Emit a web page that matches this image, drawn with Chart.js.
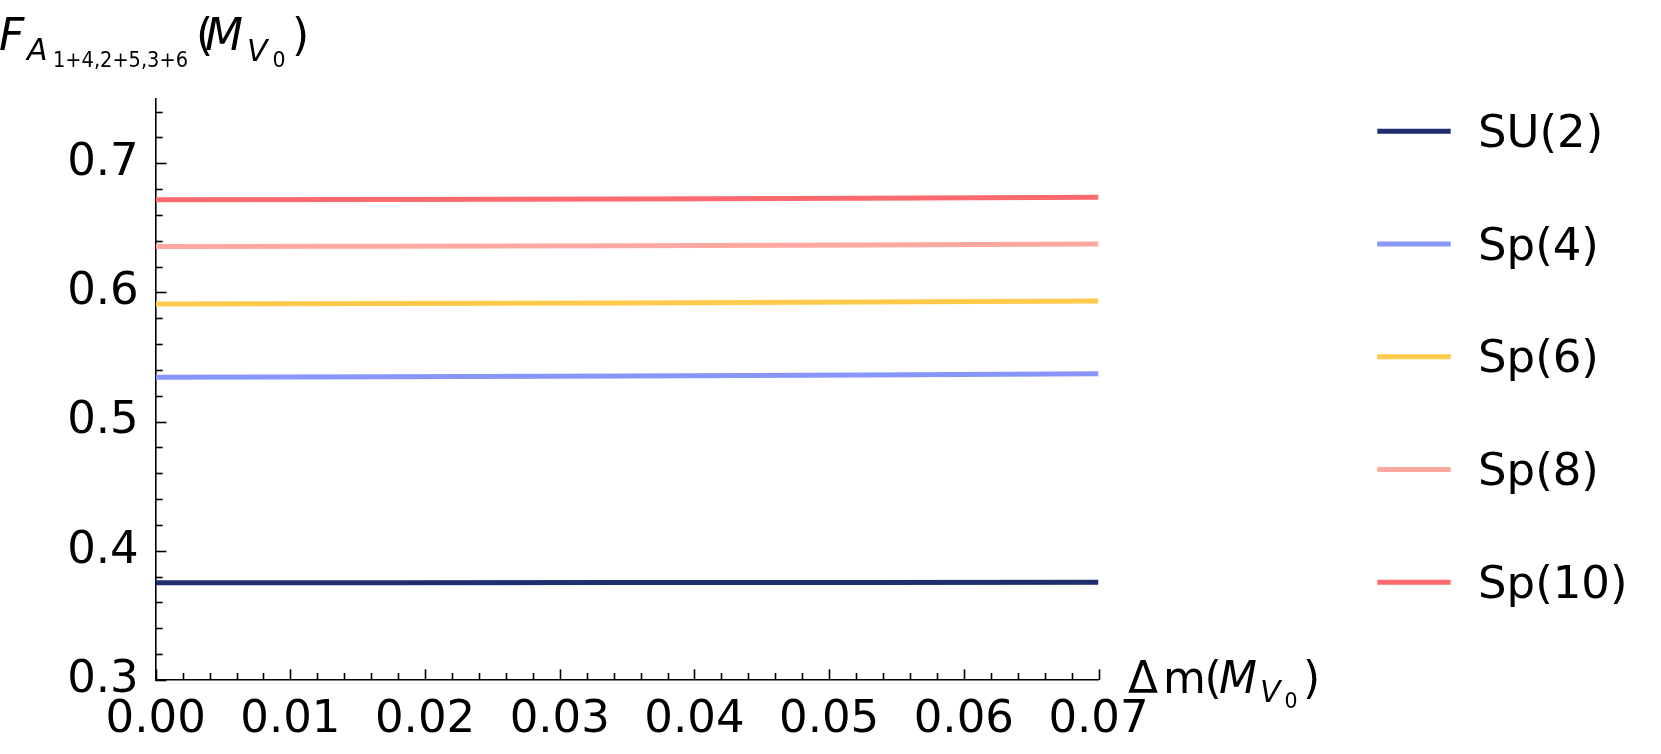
<!DOCTYPE html>
<html>
<head>
<meta charset="utf-8">
<script src="https://cdn.jsdelivr.net/npm/chart.js@4/dist/chart.umd.min.js"></script>
<style>
  html, body { margin: 0; padding: 0; background: #fff; }
  #wrap { position: relative; width: 1661px; height: 754px; }
</style>
</head>
<body>
<div id="wrap"><canvas id="myChart" width="1661" height="754"></canvas></div>
<script>
// values
const xVals = [0, 0.035, 0.07];
const su2  = [0.3753, 0.3754, 0.3756];
const sp4  = [0.5343, 0.5353, 0.5371];
const sp6  = [0.5911, 0.5919, 0.5934];
const sp8  = [0.6355, 0.6362, 0.6375];
const sp10 = [0.6718, 0.6724, 0.6737];

const seriesNames = ['SU(2)', 'Sp(4)', 'Sp(6)', 'Sp(8)', 'Sp(10)'];
const seriesColors = ['#1f2e6c', '#8895f9', '#ffc94c', '#ffa9a2', '#ff6a6f'];

const xTickLabels = [0, 0.01, 0.02, 0.03, 0.04, 0.05, 0.06, 0.07];
const yTickLabels = [0.3, 0.4, 0.5, 0.6, 0.7];

const FONT = '"DejaVu Sans", sans-serif';

function pts(ys) {
	return xVals.map((x, i) => ({ x: x, y: ys[i] }));
}

const allSeries = [su2, sp4, sp6, sp8, sp10];

const chartData = {
	datasets: allSeries.map((s, i) => ({
		label: seriesNames[i],
		data: pts(s),
		borderColor: seriesColors[i],
		backgroundColor: seriesColors[i],
		borderWidth: 5,
		pointRadius: 0,
		tension: 0.3,
		fill: false
	}))
};

// inward ticks, titles and the legend on the right
const decorPlugin = {
	id: 'decor',
	afterDraw(chart) {
		const ctx = chart.ctx;
		const xs = chart.scales.x, ys = chart.scales.y;
		const area = chart.chartArea;
		ctx.save();
		ctx.strokeStyle = '#000';
		ctx.lineWidth = 1.6;

		// y ticks every 0.02, long ones on 0.1
		for (let k = 0; k <= 22; k++) {
			const v = 0.3 + k * 0.02;
			const major = k % 5 === 0;
			const py = Math.round(ys.getPixelForValue(v)) + 0.5;
			ctx.beginPath();
			ctx.moveTo(area.left, py);
			ctx.lineTo(area.left + (major ? 10.7 : 7), py);
			ctx.stroke();
		}
		// x ticks every 0.002, long ones on 0.01
		for (let k = 0; k <= 35; k++) {
			const v = k * 0.002;
			const major = k % 5 === 0;
			const px = Math.round(xs.getPixelForValue(v)) + 0.5;
			ctx.beginPath();
			ctx.moveTo(px, area.bottom);
			ctx.lineTo(px, area.bottom - (major ? 10.7 : 7));
			ctx.stroke();
		}

		ctx.fillStyle = '#000';
		ctx.textBaseline = 'alphabetic';
		ctx.textAlign = 'left';
		const put = (t, x, y, size, italic, maxW) => {
			ctx.font = (italic ? 'italic ' : '') + size + 'px ' + FONT;
			if (maxW) ctx.fillText(t, x, y, maxW);
			else ctx.fillText(t, x, y);
		};

		// y title  F_{A_{1+4,2+5,3+6}}(M_{V_0})
		put('F', -1, 50, 44, true);
		put('A', 27, 60, 30, true);
		put('1+4,2+5,3+6', 53, 66.5, 20.5, false, 135);
		put('(', 196, 50, 44, false);
		put('M', 205, 50, 44, true);
		put('V', 247, 61, 30, true);
		put('0', 272.5, 66.5, 20.5, false);
		put(')', 292, 50, 44, false);

		// x title  Δm(M_{V_0})
		put('Δ', 1128, 692.5, 44, false);
		put('m', 1163, 692.5, 44, false);
		put('(', 1204.5, 692.5, 44, false);
		put('M', 1219, 692.5, 44, true);
		put('V', 1260, 701.5, 30, true);
		put('0', 1284.5, 708, 20.5, false);
		put(')', 1303, 692.5, 44, false);

		// legend
		chart.data.datasets.forEach((ds, i) => {
			const ly = 131.3 + i * 112.75;
			ctx.strokeStyle = ds.borderColor;
			ctx.lineWidth = 5;
			ctx.beginPath();
			ctx.moveTo(1377.3, ly);
			ctx.lineTo(1450.7, ly);
			ctx.stroke();
			put(ds.label, 1478, ly + 15.5, 45, false);
		});
		ctx.restore();
	}
};

const ctx = document.getElementById('myChart').getContext('2d');
const myChart = new Chart(ctx, {
	type: 'line',
	data: chartData,
	plugins: [decorPlugin],
	options: {
		responsive: false,
		animation: false,
		events: [],
		layout: {
			padding: { left: 0, top: 98.7, right: 562.5, bottom: 0 }
		},
		plugins: {
			legend: { display: false },
			tooltip: { enabled: false }
		},
		scales: {
			x: {
				type: 'linear',
				min: 0,
				max: 0.07,
				afterBuildTicks: axis => {
					axis.ticks = xTickLabels.map(v => ({ value: v }));
				},
				afterFit: axis => { axis.height = 74; },
				grid: { display: true, drawOnChartArea: false, drawTicks: false },
				border: { display: true, color: '#000', width: 1.6 },
				ticks: {
					color: '#000',
					font: { family: FONT, size: 45 },
					padding: 13,
					maxRotation: 0,
					autoSkip: false,
					callback: v => v.toFixed(2)
				}
			},
			y: {
				type: 'linear',
				min: 0.3,
				max: 0.75,
				afterBuildTicks: axis => {
					axis.ticks = yTickLabels.map(v => ({ value: v }));
				},
				afterFit: axis => { axis.width = 155.7; },
				grid: { display: true, drawOnChartArea: false, drawTicks: false },
				border: { display: true, color: '#000', width: 1.6 },
				ticks: {
					color: '#000',
					font: { family: FONT, size: 45 },
					padding: 17,
					autoSkip: false,
					callback: v => v.toFixed(1)
				}
			}
		}
	}
});
</script>
</body>
</html>
